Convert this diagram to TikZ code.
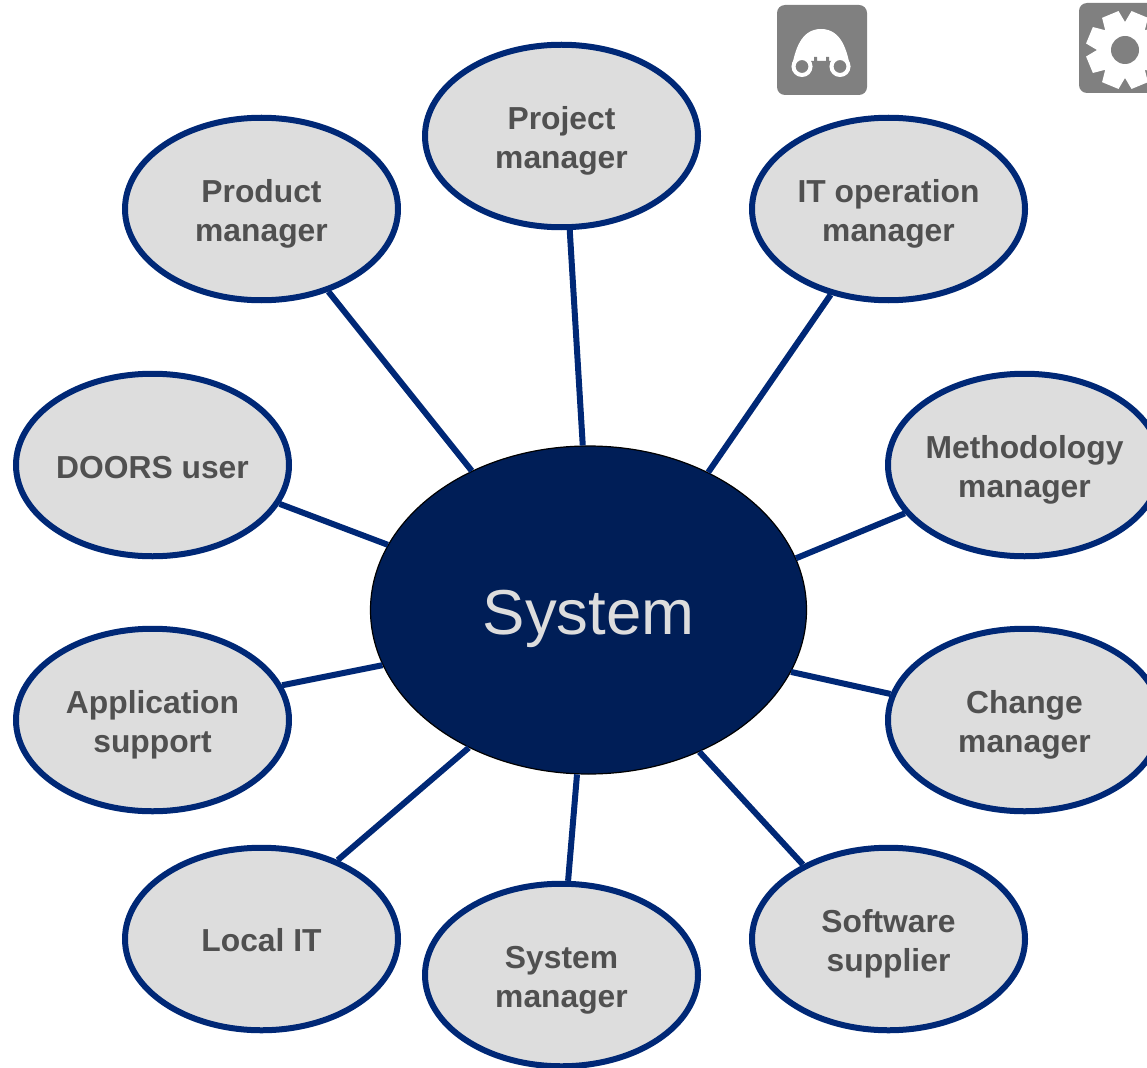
\documentclass[tikz,border=0pt]{standalone}
\usepackage{fontspec}
\setmainfont{Liberation Sans}
\usetikzlibrary{shapes.geometric}
\definecolor{RingBlue}{RGB}{0, 40, 118}
\definecolor{CoreBlue}{RGB}{0, 30, 87}
\definecolor{RoleGray}{RGB}{221, 221, 221}
\definecolor{RoleText}{RGB}{80, 80, 80}
\definecolor{IconGray}{RGB}{128, 128, 128}
\tikzstyle{role} = [ellipse, minimum width=273pt, minimum height=182.5pt, inner xsep=-20pt, inner ysep=-20pt, align=center, draw=RingBlue, fill=RoleGray, line width=6pt, text=RoleText, font=\fontsize{31.8}{39}\selectfont\bfseries, text height=72pt, text depth=7pt]
\tikzstyle{core} = [ellipse, minimum width=436pt, minimum height=328pt, inner xsep=-20pt, inner ysep=-20pt, align=center, draw=black, fill=CoreBlue, line width=1.2pt, text=RoleGray, font=\fontsize{63.5}{70}\selectfont, text height=62pt, text depth=14pt]
\tikzstyle{link} = [draw=RingBlue, line width=6pt]
\tikzstyle{iconbox} = [rectangle, rounded corners=8pt, minimum width=90pt, minimum height=90pt, fill=IconGray]

\begin{document}
\begin{tikzpicture}[x=1pt, y=-1pt]
\useasboundingbox (0,0) rectangle (1147,1067);
\clip (0,0) rectangle (1147,1067);

% Centre
\node (system) [core] at (588.5,610) {System};

% Roles
\node (project) [role] at (561.5,136) {Project\\manager};
\node (product) [role] at (261.5,209) {Product\\manager};
\node (itop) [role] at (888.5,209) {IT operation\\manager};
\node (method) [role] at (1024.5,465) {Methodology\\manager};
\node (doors) [role, text height=30pt, text depth=4pt] at (152.5,465) {DOORS user};
\node (appsupport) [role] at (152.5,720) {Application\\support};
\node (change) [role] at (1024.5,720) {Change\\manager};
\node (localit) [role, text height=28pt, text depth=4pt] at (261.5,939) {Local IT};
\node (software) [role] at (888.5,939) {Software\\supplier};
\node (sysmgr) [role] at (561.5,975) {System\\manager};

% Relations
\draw [link] (product.-51.1) -- (system.130.3);
\draw [link] (project.-85.7) -- (system.92.4);
\draw [link] (itop.236.2) -- (system.49);
\draw [link] (method.202.1) -- (system.14.9);
\draw [link] (change.169.4) -- (system.-17.6);
\draw [link] (software.139.3) -- (system.-52);
\draw [link] (sysmgr.86.9) -- (system.266.2);
\draw [link] (localit.46.5) -- (system.229);
\draw [link] (appsupport.15.1) -- (system.195.1);
\draw [link] (doors.-17.7) -- (system.162.6);

% Icons
\node (binoculars) [iconbox] at (822,50) {};
\node (gearbox) [iconbox] at (1124,48) {};

\fill [white] (792,66) .. controls (795,52) and (800,29) .. (821,29) .. controls (842,29) and (847,52) .. (850,66) -- (821,66) -- cycle;
\fill [IconGray] (811,67) -- (811,61) -- (814,61) -- (814,57) -- (817,57) -- (817,61) -- (826,61) -- (826,57) -- (829,57) -- (829,61) -- (832,61) -- (832,67) -- cycle;
\draw [white, line width=4pt, fill=IconGray] (802,66.5) circle (8.5pt);
\draw [white, line width=4pt, fill=IconGray] (840,66.5) circle (8.5pt);

\begin{scope}[shift={(1125,50)}]
\fill [white] (-22.5:28)
  foreach \a in {22.5,67.5,...,337.5} {
    -- (\a-13:39.5) -- (\a+13:39.5) -- (\a+22.5:28)
  } -- cycle;
\fill [IconGray] (0,0) circle (14pt);
\end{scope}

\end{tikzpicture}
\end{document}
